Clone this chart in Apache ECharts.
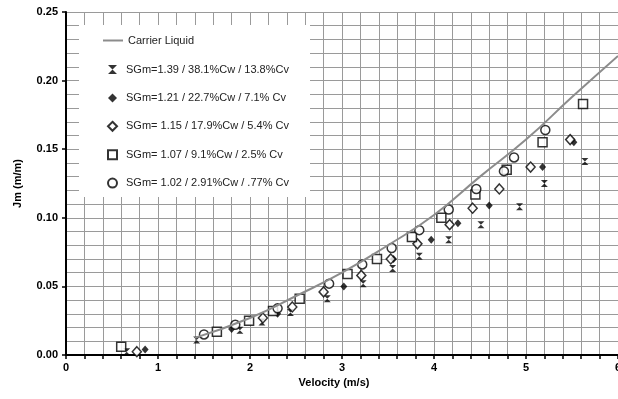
<!DOCTYPE html>
<html>
<head>
<meta charset="utf-8">
<script src="https://cdn.jsdelivr.net/npm/echarts@6/dist/echarts.min.js"></script>
<style>
  html, body { margin: 0; padding: 0; background: #fff; overflow: hidden; }
  #chart { width: 618px; height: 399px; }
</style>
</head>
<body>
<div id="chart"></div>
<script>
// Carrier Liquid curve
var carrierLiquid = [[1.4, 0.0125], [2.0, 0.027], [2.5, 0.043], [3.0, 0.060], [3.5, 0.080],
	[4.0, 0.102], [4.5, 0.130], [5.0, 0.157], [5.5, 0.188], [6.0, 0.218]];

// SGm=1.39 / 38.1%Cw / 13.8%Cv
var sg139 = [[0.66, 0.0024], [1.42, 0.011], [1.89, 0.018], [2.13, 0.024], [2.44, 0.031],
	[2.84, 0.041], [3.23, 0.052], [3.55, 0.063], [3.84, 0.072], [4.16, 0.084], [4.51, 0.095],
	[4.93, 0.108], [5.20, 0.125], [5.64, 0.141]];

// SGm=1.21 / 22.7%Cw / 7.1% Cv
var sg121 = [[0.86, 0.004], [1.80, 0.019], [2.30, 0.030], [3.02, 0.050], [3.56, 0.070],
	[3.97, 0.084], [4.26, 0.096], [4.60, 0.109], [5.18, 0.137], [5.52, 0.155]];

// SGm= 1.15 / 17.9%Cw / 5.4% Cv
var sg115 = [[0.77, 0.0024], [2.14, 0.027], [2.46, 0.035], [2.80, 0.046], [3.21, 0.058],
	[3.53, 0.070], [3.82, 0.081], [4.17, 0.095], [4.42, 0.107], [4.71, 0.121], [5.05, 0.137],
	[5.48, 0.157]];

// SGm= 1.07 / 9.1%Cw / 2.5% Cv
var sg107 = [[0.60, 0.006], [1.64, 0.017], [1.99, 0.025], [2.25, 0.032], [2.54, 0.041],
	[3.06, 0.059], [3.38, 0.070], [3.76, 0.086], [4.08, 0.100], [4.45, 0.117], [4.79, 0.135],
	[5.18, 0.155], [5.62, 0.183]];

// SGm= 1.02 / 2.91%Cw / .77% Cv
var sg102 = [[1.50, 0.015], [1.84, 0.022], [2.30, 0.034], [2.86, 0.052], [3.22, 0.066],
	[3.54, 0.078], [3.84, 0.091], [4.16, 0.106], [4.46, 0.121], [4.76, 0.134], [4.87, 0.144],
	[5.21, 0.164]];

var names = ['Carrier Liquid', 'SGm=1.39 / 38.1%Cw / 13.8%Cv', 'SGm=1.21 / 22.7%Cw / 7.1% Cv',
	'SGm= 1.15 / 17.9%Cw / 5.4% Cv', 'SGm= 1.07 / 9.1%Cw / 2.5% Cv', 'SGm= 1.02 / 2.91%Cw / .77% Cv'];

var font = 'Arial, "Liberation Sans", sans-serif';
var openStyle = { color: '#fff', borderColor: '#000', borderWidth: 1.5 };
var legendText = { fontFamily: font, fontSize: 11, color: '#222' };

function loadChart(){
	var option = {
		animation: false,
		backgroundColor: '#fff',
		grid: { left: 66, top: 12, width: 552, height: 343, outerBoundsMode: 'none', containLabel: false },
		// white box behind the legend
		graphic: [{
			type: 'rect', left: 79, top: 25, z: 5,
			shape: { width: 231, height: 172 },
			style: { fill: '#fff' }
		}],
		legend: [{
			left: 103, top: 35, z: 10, padding: 0,
			itemWidth: 20, itemHeight: 2,
			textStyle: legendText,
			data: [{ name: names[0], icon: 'rect' }]
		}, {
			left: 107, top: 64, z: 10, padding: 0,
			orient: 'vertical',
			itemWidth: 9, itemHeight: 9, itemGap: 17.4,
			textStyle: { fontFamily: font, fontSize: 11, color: '#222', padding: [0, 0, 0, 4] },
			data: names.slice(1)
		}],
		xAxis: {
			type: 'value', min: 0, max: 6, interval: 1,
			axisLine: { show: true, onZero: false, lineStyle: { color: '#000', width: 2 } },
			axisTick: { show: true, length: 4, lineStyle: { color: '#000', width: 1.5 } },
			minorTick: { show: true, splitNumber: 5, length: 4, lineStyle: { color: '#000', width: 1.5 } },
			splitLine: { show: true, lineStyle: { color: '#9a9a9a', width: 1 } },
			minorSplitLine: { show: true, lineStyle: { color: '#9a9a9a', width: 1 } },
			axisLabel: { fontFamily: font, fontSize: 11, fontWeight: 'bold', color: '#000', margin: 7 },
			name: 'Velocity (m/s)', nameLocation: 'middle', nameGap: 21,
			nameTextStyle: { fontFamily: font, fontSize: 11, fontWeight: 'bold', color: '#000', padding: [0, 16, 0, 0] }
		},
		yAxis: {
			type: 'value', min: 0, max: 0.25, interval: 0.05,
			axisLine: { show: true, onZero: false, lineStyle: { color: '#000', width: 2 } },
			axisTick: { show: true, length: 4, lineStyle: { color: '#000', width: 1.5 } },
			minorTick: { show: false },
			splitLine: { show: true, lineStyle: { color: '#9a9a9a', width: 1 } },
			minorSplitLine: { show: true, lineStyle: { color: '#9a9a9a', width: 1 } },
			axisLabel: {
				fontFamily: font, fontSize: 11, fontWeight: 'bold', color: '#000', margin: 8,
				formatter: function(v){ return v.toFixed(2); }
			},
			name: 'Jm (m/m)', nameLocation: 'middle', nameGap: 43, nameRotate: 90,
			nameTextStyle: { fontFamily: font, fontSize: 11, fontWeight: 'bold', color: '#000' }
		},
		series: [
			{
				name: names[0], type: 'line', data: carrierLiquid, smooth: true,
				symbol: 'none', z: 3,
				lineStyle: { color: '#8c8c8c', width: 2 },
				itemStyle: { color: '#8c8c8c' }
			},
			{
				name: names[1], type: 'scatter', data: sg139,
				symbol: 'path://M0,0L10,0L0,10L10,10Z', symbolSize: [7, 7],
				itemStyle: { color: '#000' }
			},
			{
				name: names[2], type: 'scatter', data: sg121,
				symbol: 'diamond', symbolSize: [7, 8],
				itemStyle: { color: '#000' }
			},
			{
				name: names[3], type: 'scatter', data: sg115,
				symbol: 'diamond', symbolSize: [9, 10],
				itemStyle: openStyle
			},
			{
				name: names[4], type: 'scatter', data: sg107,
				symbol: 'rect', symbolSize: 9,
				itemStyle: openStyle
			},
			{
				name: names[5], type: 'scatter', data: sg102,
				symbol: 'circle', symbolSize: 9,
				itemStyle: openStyle
			}
		]
	};
	var chart = echarts.init(document.getElementById('chart'));
	chart.setOption(option);
}

loadChart();
</script>
</body>
</html>
